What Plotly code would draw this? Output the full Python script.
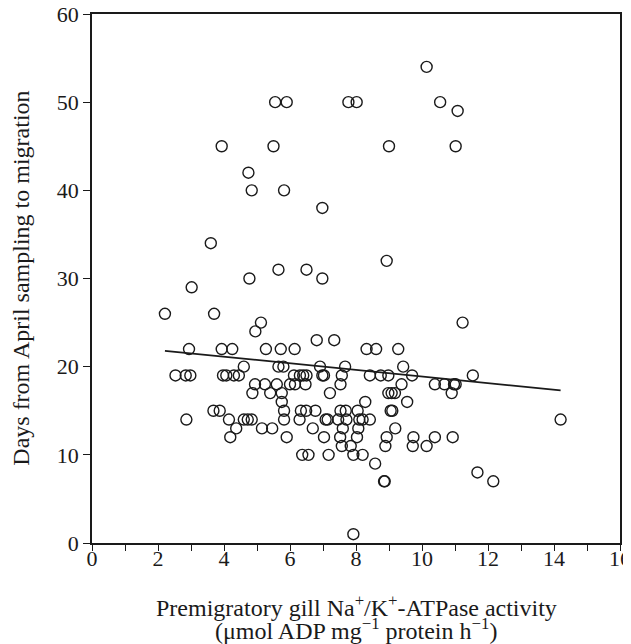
import plotly.graph_objects as go

# Days from April sampling to migration, grouped by day value: x values (ATPase activity)
points_by_day = {
    54: [10.14],
    50: [5.55, 5.9, 7.77, 8.02, 10.55],
    49: [11.08],
    45: [3.93, 5.5, 9.0, 11.02],
    42: [4.74],
    40: [4.84, 5.82],
    38: [6.98],
    34: [3.6],
    32: [8.93],
    31: [5.65, 6.5],
    30: [4.77, 6.98],
    29: [3.02],
    26: [2.21, 3.7],
    25: [5.12, 11.23],
    24: [4.95],
    23: [6.81, 7.34],
    22: [2.94, 3.93, 4.25, 5.27, 5.72, 6.14, 8.32, 8.61, 9.28],
    20: [4.6, 5.65, 5.8, 6.91, 7.67, 9.43],
    19: [2.53, 2.84, 2.98, 3.97, 4.07, 4.3, 4.45, 6.12, 6.3, 6.4, 6.5, 6.98, 7.03,
         7.57, 8.42, 8.75, 8.98, 9.7, 11.54],
    18: [4.94, 5.24, 5.6, 6.0, 6.15, 6.47, 7.53, 9.38, 10.39, 10.68, 10.97, 11.02],
    17: [4.86, 5.4, 5.75, 7.21, 8.98, 9.08, 9.18, 10.9],
    16: [5.75, 8.28, 9.55],
    15: [3.68, 3.87, 5.82, 6.33, 6.49, 6.77, 7.53, 7.69, 8.05, 9.05, 9.1],
    14: [2.86, 4.15, 4.6, 4.72, 4.84, 5.82, 6.29, 7.08, 7.14, 7.46, 7.71, 8.1, 8.2,
         8.42, 14.2],
    13: [4.37, 5.15, 5.46, 6.69, 7.6, 8.07, 9.19],
    12: [4.19, 5.9, 7.03, 7.52, 8.03, 8.93, 9.74, 10.39, 10.93],
    11: [7.57, 7.84, 8.89, 9.72, 10.14],
    10: [6.37, 6.56, 7.17, 7.92, 8.2],
    9: [8.58],
    8: [11.68],
    7: [8.85, 8.87, 12.16],
    1: [7.92],
}

atpase = [x for d, xs in points_by_day.items() for x in xs]
days = [d for d, xs in points_by_day.items() for x in xs]

# Regression line
intercept = 22.63
slope = -0.375
line_x = [min(atpase), max(atpase)]
line_y = [intercept + slope * v for v in line_x]

x_ticks = [0, 2, 4, 6, 8, 10, 12, 14, 16]
y_ticks = [0, 10, 20, 30, 40, 50, 60]

x_title_1 = "Premigratory gill Na<sup>+</sup>/K<sup>+</sup>-ATPase activity"
x_title_2 = "(μmol ADP mg<sup>−1</sup> protein h<sup>−1</sup>)"
y_title = "Days from April sampling to migration"

FONT = "Liberation Serif"
INK = "#1a1a1a"

fig = go.Figure()
fig.add_trace(go.Scatter(
    x=atpase, y=days, mode="markers",
    marker=dict(symbol="circle-open", size=11, color=INK, line=dict(width=1.4)),
    showlegend=False, cliponaxis=False,
))
fig.add_trace(go.Scatter(
    x=line_x, y=line_y, mode="lines",
    line=dict(color=INK, width=1.7), showlegend=False,
))

fig.update_layout(
    width=631, height=644,
    margin=dict(l=84, r=19, t=6, b=109),
    paper_bgcolor="white", plot_bgcolor="white",
    font=dict(family=FONT, size=22, color=INK),
    xaxis=dict(
        range=[0, 16], tickvals=x_ticks, ticks="outside", ticklen=6, tickwidth=1.2,
        tickcolor=INK,
        minor=dict(dtick=1, ticks="outside", ticklen=6, tickwidth=1.2, tickcolor=INK),
        showline=True, linecolor=INK, linewidth=1.5, mirror=True,
        showgrid=False, zeroline=False, tickfont=dict(size=22), automargin=False,
        ticklabelstandoff=-11, ticklabeloverflow="allow",
    ),
    yaxis=dict(
        range=[0, 60], tickvals=y_ticks, ticks="outside", ticklen=7, tickwidth=1.2,
        tickcolor=INK,
        showline=True, linecolor=INK, linewidth=1.5, mirror=True,
        showgrid=False, zeroline=False, tickfont=dict(size=22), automargin=False,
        ticklabeloverflow="allow",
    ),
    annotations=[
        dict(text=x_title_1, xref="paper", yref="paper", x=0.5, y=-0.12,
             xanchor="center", yanchor="middle", showarrow=False, font=dict(size=24)),
        dict(text=x_title_2, xref="paper", yref="paper", x=0.5, y=-0.1635,
             xanchor="center", yanchor="middle", showarrow=False, font=dict(size=24)),
        dict(text=y_title, xref="paper", yref="paper", x=-0.136, y=0.5, textangle=-90,
             xanchor="center", yanchor="middle", showarrow=False, font=dict(size=24)),
    ],
)

fig.write_html("out.html")
